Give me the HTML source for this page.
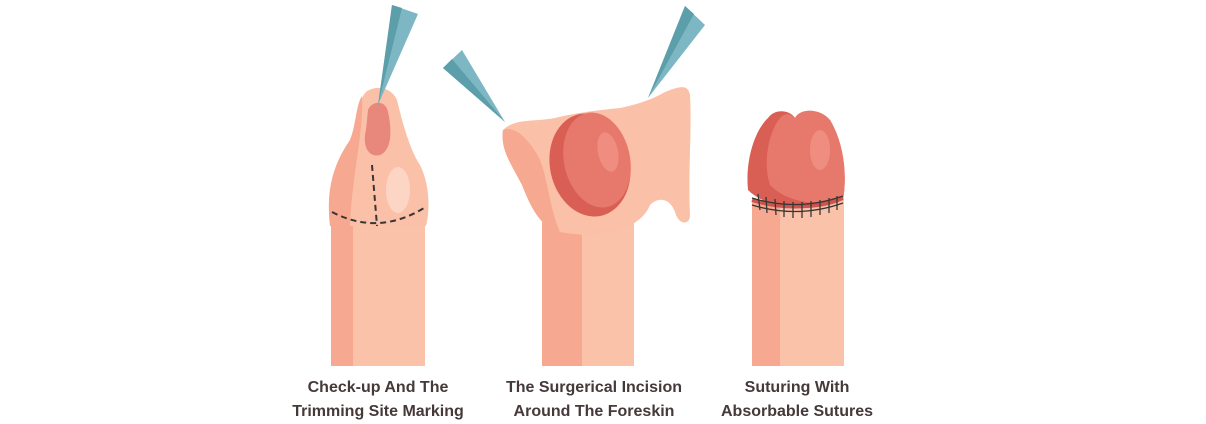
<!DOCTYPE html>
<html><head><style>
html,body{margin:0;padding:0;background:#fff;width:1206px;height:424px;overflow:hidden}
.t{font-family:"Liberation Sans",sans-serif;font-weight:bold;font-size:16px;fill:#45393a}
</style></head><body>
<svg width="1206" height="424" viewBox="0 0 1206 424" xmlns="http://www.w3.org/2000/svg">
<!-- Figure 1 -->
<rect x="331" y="222" width="94" height="144" fill="#fbc2aa"/>
<rect x="331" y="222" width="22" height="144" fill="#f7a891"/>
<path d="M330 226 C326 190 333 165 350 140 C358 120 358 100 366 92 C376 84 392 88 397 100 C403 125 410 150 420 165 C430 185 430 210 426 226 Z" fill="#fbc0a8"/>
<path d="M330 226 C326 190 333 165 350 140 C356 125 356 105 362 96 C364 130 352 175 350 226 Z" fill="#f6a891"/>
<ellipse cx="398" cy="190" rx="12" ry="23" fill="#fdd5c4"/>
<path d="M368 110 C372 100 386 100 388 112 C392 130 392 150 380 155 C368 158 362 145 366 130 Z" fill="#e8877b"/>
<path d="M378 105 L392 5 L418 14 Z" fill="#7db7c3"/>
<path d="M378 105 L392 5 L402 8 Z" fill="#5d9eab"/>
<path d="M372 165 L377 226" stroke="#3a3535" stroke-width="2" stroke-dasharray="6,4" fill="none"/>
<path d="M332 212 Q378 236 424 208" stroke="#3a3535" stroke-width="2" stroke-dasharray="6,4" fill="none"/>
<!-- Figure 2 -->
<rect x="542" y="222" width="92" height="144" fill="#fbc2aa"/>
<rect x="542" y="222" width="40" height="144" fill="#f7a891"/>
<path d="M503 130 C515 118 535 122 555 118 C580 112 600 110 620 108 C640 104 655 98 665 92 C680 86 688 84 690 95 C692 130 688 170 690 215 C690 225 680 225 676 215 C672 200 660 195 650 205 C640 230 600 240 560 232 C540 228 530 205 522 185 C512 165 500 150 503 130 Z" fill="#fbc0a8"/>
<path d="M503 130 C515 125 530 140 540 160 C548 180 550 210 560 232 C540 228 530 205 522 185 C512 165 500 150 503 130 Z" fill="#f6a891"/>
<ellipse cx="590" cy="165" rx="40" ry="52" transform="rotate(-12 590 165)" fill="#d95f55"/>
<ellipse cx="597" cy="160" rx="33" ry="48" transform="rotate(-12 597 160)" fill="#e7796c"/>
<ellipse cx="608" cy="152" rx="10" ry="20" transform="rotate(-12 608 152)" fill="#ef8e80"/>
<path d="M505 122 L443 68 L462 50 Z" fill="#7db7c3"/>
<path d="M505 122 L443 68 L452 59 Z" fill="#5d9eab"/>
<path d="M648 98 L685 6 L705 25 Z" fill="#7db7c3"/>
<path d="M648 98 L685 6 L694 14 Z" fill="#5d9eab"/>
<!-- Figure 3 -->
<rect x="752" y="200" width="92" height="166" fill="#fbc2aa"/>
<rect x="752" y="200" width="28" height="166" fill="#f7a891"/>
<path d="M748 190 C745 160 755 130 768 118 C775 108 790 110 795 118 C800 108 820 108 830 120 C842 140 848 170 843 200 C820 212 770 212 748 190 Z" fill="#d95f55"/>
<path d="M770 185 C762 160 770 130 780 118 C785 112 792 114 795 118 C800 108 820 108 830 120 C842 140 848 170 843 200 C820 205 790 205 770 185 Z" fill="#e7796c"/>
<ellipse cx="820" cy="150" rx="10" ry="20" fill="#ef8e80"/>
<path d="M752 200 Q798 214 843 198" stroke="#c9554c" stroke-width="4" fill="none"/>
<g stroke="#3a3535" stroke-width="1.3" fill="none">
<path d="M752 198 Q798 212 843 196"/>
<path d="M752 205 Q798 219 843 203"/>
<path d="M758 194 l2 16 M766 197 l1 16 M775 199 l1 16 M784 201 l0 16 M793 202 l0 16 M802 202 l0 16 M811 201 l0 16 M820 200 l0 15 M829 198 l0 15 M837 196 l0 14"/>
</g>
<!-- Labels -->
<text class="t" x="378" y="392" text-anchor="middle">Check-up And The</text>
<text class="t" x="378" y="416" text-anchor="middle">Trimming Site Marking</text>
<text class="t" x="594" y="392" text-anchor="middle">The Surgerical Incision</text>
<text class="t" x="594" y="416" text-anchor="middle">Around The Foreskin</text>
<text class="t" x="797" y="392" text-anchor="middle">Suturing With</text>
<text class="t" x="797" y="416" text-anchor="middle">Absorbable Sutures</text>
</svg>
</body></html>
